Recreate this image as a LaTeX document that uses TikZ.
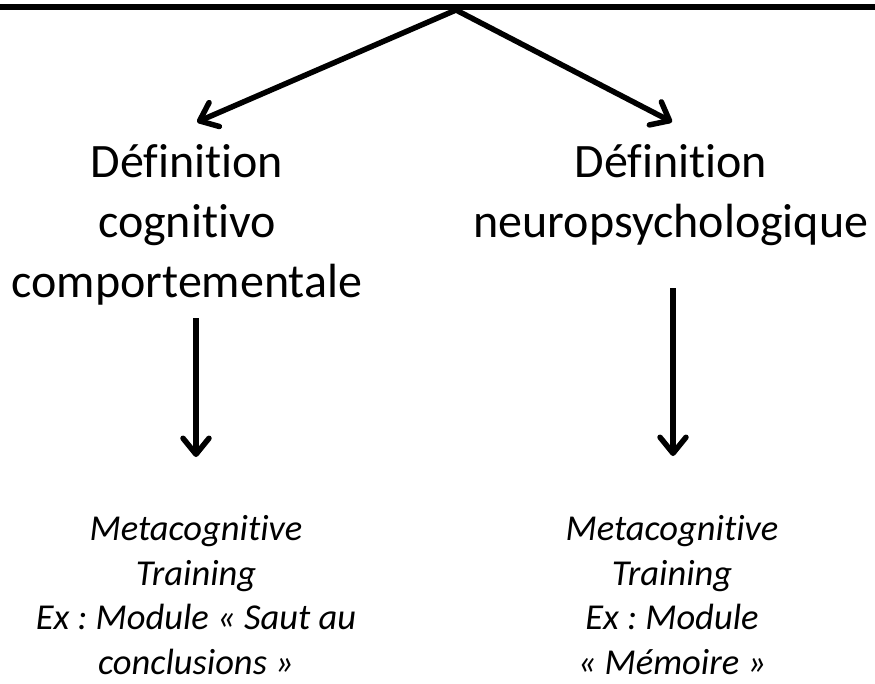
\documentclass[tikz,border=0pt]{standalone}
\usepackage{fontspec}
\setmainfont{Carlito}[Ligatures={TeX,NoCommon}]
\usetikzlibrary{arrows.meta}
\frenchspacing
\begin{document}
\begin{tikzpicture}[x=1pt,y=-1pt,
  bar/.style={line width=6.5pt},
  link/.style={line width=5.5pt,-{Straight Barb[length=16pt,width=26pt,round]}},
  heading/.style={align=center,inner sep=0pt,anchor=base,
    font=\fontsize{48}{60}\selectfont},
  example/.style={align=center,inner sep=0pt,anchor=base,
    font=\fontsize{36.5}{44.5}\selectfont\itshape}]
  \useasboundingbox (0,0) rectangle (875,683);

  % top bar and its apex
  \coordinate (barL) at (0,7);
  \coordinate (barR) at (875,7);
  \coordinate (apex) at (456,10);
  \draw[bar] (barL) -- (barR);

  % headings (placed by the baseline of their last line)
  \node[heading] (cc) at (187,297) {Définition\\cognitivo\\comportementale};
  \node[heading] (np) at (671,237) {Définition\\neuropsychologique};

  % examples
  \node[example] (exL) at (196,674)
    {Metacognitive\\Training\\Ex : Module « Saut au\\conclusions »};
  \node[example] (exR) at (672,674)
    {Metacognitive\\Training\\Ex : Module\\« Mémoire »};

  % arrow end points
  \coordinate (tipL) at (197,122);
  \coordinate (tipR) at (672,122);
  \coordinate (srcL) at (196,318);
  \coordinate (dstL) at (196,457);
  \coordinate (srcR) at (673,288);
  \coordinate (dstR) at (673,456);

  \draw[link] (apex) -- (tipL);
  \draw[link] (apex) -- (tipR);
  \draw[link] (srcL) -- (dstL);
  \draw[link] (srcR) -- (dstR);
\end{tikzpicture}
\end{document}
